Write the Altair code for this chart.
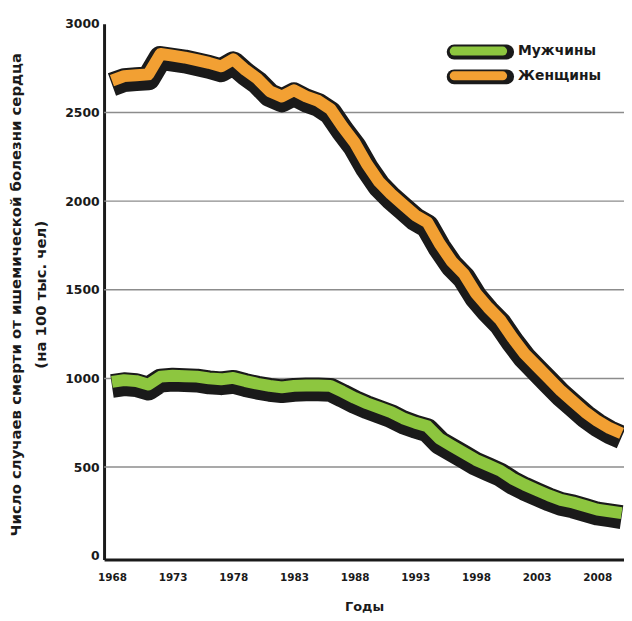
import altair as alt
import pandas as pd

years = list(range(1968, 2011))
women = [2680, 2705, 2710, 2715, 2830, 2820, 2810, 2795, 2780, 2760,
         2800, 2740, 2690, 2620, 2590, 2625, 2590, 2565, 2520, 2420,
         2330, 2210, 2110, 2040, 1980, 1920, 1880, 1760, 1660, 1590,
         1480, 1400, 1330, 1230, 1140, 1070, 1000, 930, 870, 810,
         760, 720, 690]
men = [980, 990, 985, 965, 1010, 1015, 1012, 1010, 1000, 995,
       1003, 985, 970, 958, 950, 958, 960, 960, 958, 925,
       890, 860, 835, 810, 775, 750, 730, 660, 620, 580,
       540, 510, 480, 435, 400, 370, 340, 315, 300, 280,
       260, 250, 240]
series_names = ["Мужчины", "Женщины"]
series_colors = ["#8DC63F", "#F2A033"]
y_ticks = [0, 500, 1000, 1500, 2000, 2500, 3000]
x_ticks = [1968, 1973, 1978, 1983, 1988, 1993, 1998, 2003, 2008]
grid_values = [500, 1000, 1500, 2000, 2500]
y_title = ["Число случаев смерти от ишемической болезни сердца", "(на 100 тыс. чел)"]
x_title = "Годы"

rows = []
for yr, m, w in zip(years, men, women):
    rows.append({"year": yr, "series": series_names[0], "value": m})
    rows.append({"year": yr, "series": series_names[1], "value": w})
df = pd.DataFrame(rows)
grid_df = pd.DataFrame({"v": grid_values})
legend_df = pd.DataFrame({"series": series_names})

FONT = "DejaVu Sans"
INK = "#1a1a1a"

x_axis = alt.Axis(values=x_ticks, format="d", title=x_title, grid=False, ticks=False,
                  domain=True, domainColor=INK, domainWidth=3,
                  labelFont=FONT, labelFontSize=10.5, labelFontWeight="bold",
                  labelColor=INK, labelPadding=13,
                  titleFont=FONT, titleFontSize=13, titleFontWeight="bold",
                  titleColor=INK, titleY=47, titleBaseline="middle")
y_axis = alt.Axis(values=y_ticks, format="d", title=y_title, grid=False, ticks=False,
                  domain=True, domainColor=INK, domainWidth=3,
                  labelFont=FONT, labelFontSize=12.5, labelFontWeight="bold",
                  labelColor=INK, labelPadding=5,
                  titleFont=FONT, titleFontSize=15, titleFontWeight="bold",
                  titleColor=INK, titleAngle=270, titleX=-89, titleY=273,
                  titleAlign="center", titleBaseline="middle", titleLineHeight=25)

x_scale = alt.Scale(domain=[1967.35, 2010.2], nice=False, zero=False)
y_scale = alt.Scale(domain=[-22, 3000], nice=False, zero=False)
color_scale = alt.Scale(domain=series_names, range=series_colors)

X = alt.X("year:Q", scale=x_scale, axis=x_axis)
Y = alt.Y("value:Q", scale=y_scale, axis=y_axis)

grid = alt.Chart(grid_df).mark_rule(color="#8c8c8c", strokeWidth=1.5).encode(
    y=alt.Y("v:Q", scale=y_scale, axis=y_axis)
)

shadow = alt.Chart(df).mark_line(color=INK, strokeWidth=24, strokeCap="butt",
                                 strokeJoin="round", yOffset=4, clip=True).encode(
    x=X, y=Y, detail="series:N",
)

lines = alt.Chart(df).mark_line(strokeWidth=12, strokeCap="butt", strokeJoin="round",
                                clip=True).encode(
    x=X, y=Y,
    color=alt.Color("series:N", scale=color_scale, legend=None),
)

main = alt.layer(grid, shadow, lines)

# legend built from the series names
LY = alt.Y("series:N", scale=alt.Scale(type="point", domain=series_names,
                                        range=[27.5, 52.5], padding=0), axis=None)
leg_black = alt.Chart(legend_df).mark_rule(color=INK, strokeWidth=15, strokeCap="round",
                                           yOffset=1).encode(
    x=alt.value(353.5), x2=alt.value(406.5), y=LY)
leg_color = alt.Chart(legend_df).mark_rule(strokeWidth=9, strokeCap="round").encode(
    x=alt.value(353.5), x2=alt.value(402.5), y=LY,
    color=alt.Color("series:N", scale=color_scale, legend=None))
leg_text = alt.Chart(legend_df).mark_text(align="left", baseline="middle", font=FONT,
                                          fontSize=14, fontWeight="bold", color=INK).encode(
    x=alt.value(418), y=LY, text="series:N")
legend = alt.layer(leg_black, leg_color, leg_text)

chart = alt.layer(main, legend).resolve_scale(y="independent").properties(
    width=525, height=541,
    padding={"left": 97, "top": 13, "right": 0, "bottom": 58},
    autosize=alt.AutoSizeParams(type="none"),
    background="white",
).configure_view(stroke=None)

chart.save("out.html", embed_options={"renderer": "svg", "actions": False})
